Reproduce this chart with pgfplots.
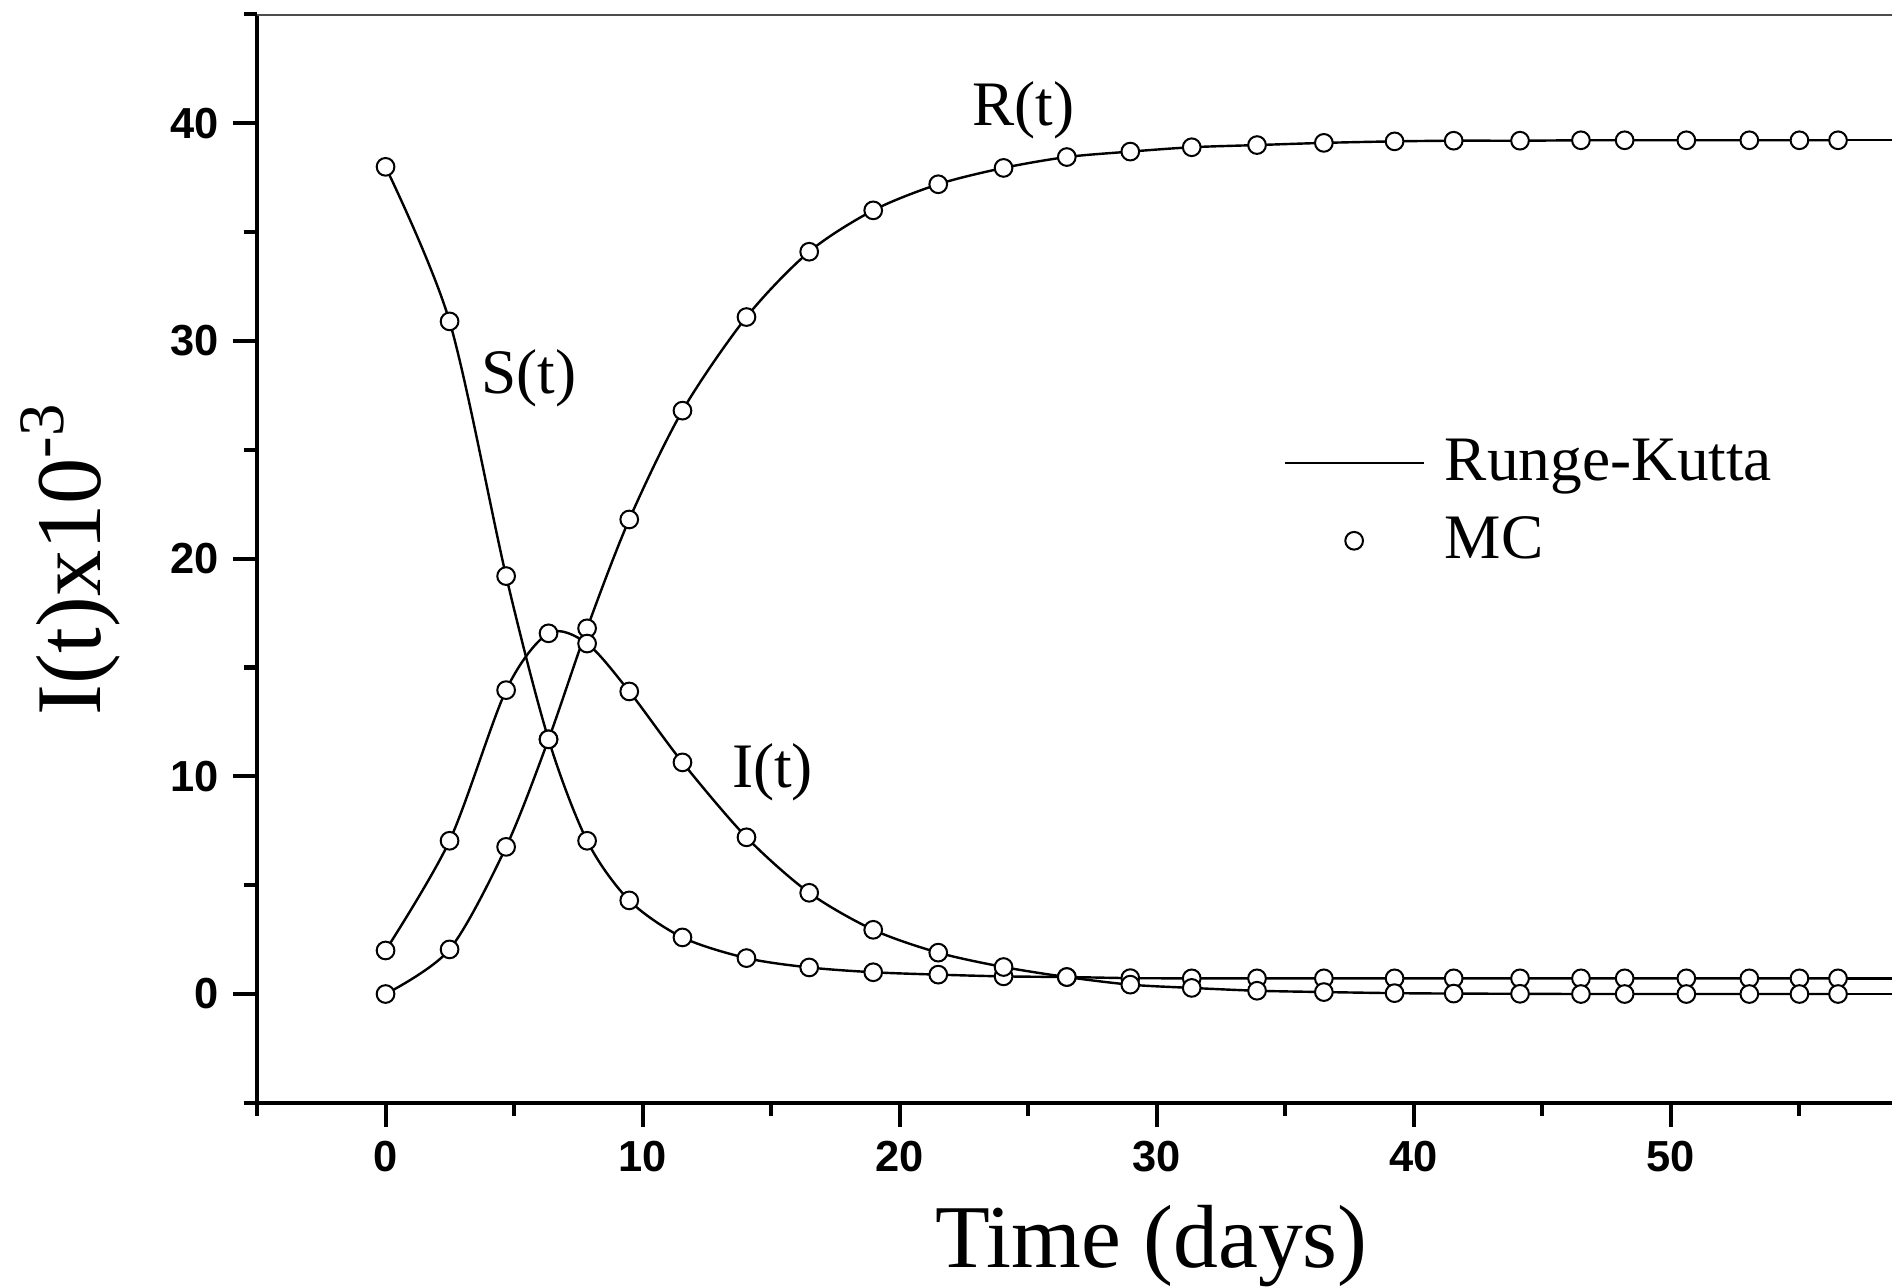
\documentclass[border=0pt]{standalone}
\usepackage{fontspec}
\setmainfont{Liberation Serif}
\newfontfamily\ticksf{Liberation Sans}
\usepackage{pgfplots}
\usepackage{pgfplotstable}
\pgfplotsset{compat=1.18}

% MC samples (values x10^3)
\pgfplotstableread{
t     S     I     R
0     38.0  2.0   0.0
2.49  30.9  7.04  2.05
4.69  19.2  13.96 6.76
6.34  11.7  16.57 11.7
7.84  7.04  16.1  16.8
9.48  4.3   13.9  21.8
11.55 2.6   10.64 26.8
14.04 1.65  7.2   31.1
16.48 1.22  4.65  34.1
18.97 1.0   2.95  36.0
21.5  0.89  1.9   37.2
24.04 0.81  1.24  37.95
26.5  0.78  0.78  38.45
28.97 0.73  0.43  38.7
31.36 0.72  0.28  38.9
33.9  0.72  0.15  39.0
36.5  0.72  0.09  39.1
39.25 0.72  0.04  39.17
41.55 0.72  0.02  39.2
44.13 0.72  0.01  39.2
46.5  0.72  0.0   39.22
48.2  0.72  0.0   39.22
50.6  0.72  0.0   39.22
53.05 0.72  0.0   39.22
55.0  0.72  0.0   39.22
56.5  0.72  0.0   39.22
}\mcdata

\begin{document}
\begin{tikzpicture}
\begin{axis}[
  scale only axis, width=406.5pt, height=270.6pt,
  xmin=-5, xmax=58.6, ymin=-5, ymax=45,
  axis x line*=bottom, axis y line*=left,
  axis line style={line width=1pt},
  xtick={0,10,...,50}, minor xtick={-5,5,...,55},
  ytick={0,10,...,40}, minor ytick={-5,5,...,45},
  tick align=outside, major tick length=6pt, minor tick length=3.3pt,
  every tick/.style={black, line width=1pt},
  /pgf/number format/assume math mode=true,
  tick label style={font=\ticksf\bfseries\fontsize{10.8}{12}\selectfont},
  xlabel={Time (days)},
  ylabel={I(t)x10\textsuperscript{-3}},
  xlabel style={font=\fontsize{22.3}{26}\selectfont, at={(axis description cs:0.547,-0.151)}, anchor=base},
  ylabel style={font=\fontsize{23}{27}\selectfont, at={(axis description cs:-0.096,0.5)}, anchor=base},
  legend style={at={(axis description cs:0.62,0.625)}, anchor=north west,
    draw=none, fill=none, font=\fontsize{15.75}{18}\selectfont, row sep=3.4pt,
    nodes={inner xsep=5pt}},
  legend cell align=left,
  legend image code/.code={\draw[mark repeat=2,mark phase=2,#1] plot coordinates {(0pt,0pt) (17.25pt,0pt) (34.5pt,0pt)};},
  rk/.style={black, line width=0.6pt, smooth, no marks},
  mc/.style={only marks, mark=*, mark size=2.2pt, mark options={fill=white, draw=black, line width=0.5pt}},
]
\draw[gray!60!black, line width=0.6pt] (rel axis cs:0,1) -- (rel axis cs:1,1);

\addplot[rk] table[x=t, y=R] {\mcdata};
\addlegendentry{Runge-Kutta}
\addplot[rk, forget plot] table[x=t, y=S] {\mcdata};
\addplot[rk, forget plot] table[x=t, y=I] {\mcdata};
\addplot[rk, forget plot] coordinates {(56.5,39.22) (60,39.22)};
\addplot[rk, forget plot] coordinates {(56.5,0.72) (60,0.72)};
\addplot[rk, forget plot] coordinates {(56.5,0) (60,0)};

\addplot[mc] table[x=t, y=R] {\mcdata};
\addlegendentry{MC}
\addplot[mc, forget plot] table[x=t, y=S] {\mcdata};
\addplot[mc, forget plot] table[x=t, y=I] {\mcdata};

\node[font=\fontsize{15.75}{18}\selectfont, anchor=base] at (axis cs:24.82,39.9) {R(t)};
\node[font=\fontsize{15.75}{18}\selectfont, anchor=base] at (axis cs:5.58,27.6) {S(t)};
\node[font=\fontsize{15.75}{18}\selectfont, anchor=base] at (axis cs:15.05,9.47) {I(t)};
\end{axis}
\pgfresetboundingbox
\path ([shift={(-63.9pt,-45.9pt)}]current axis.south west) rectangle ([shift={(0pt,3.6pt)}]current axis.north east);
\end{tikzpicture}
\end{document}
